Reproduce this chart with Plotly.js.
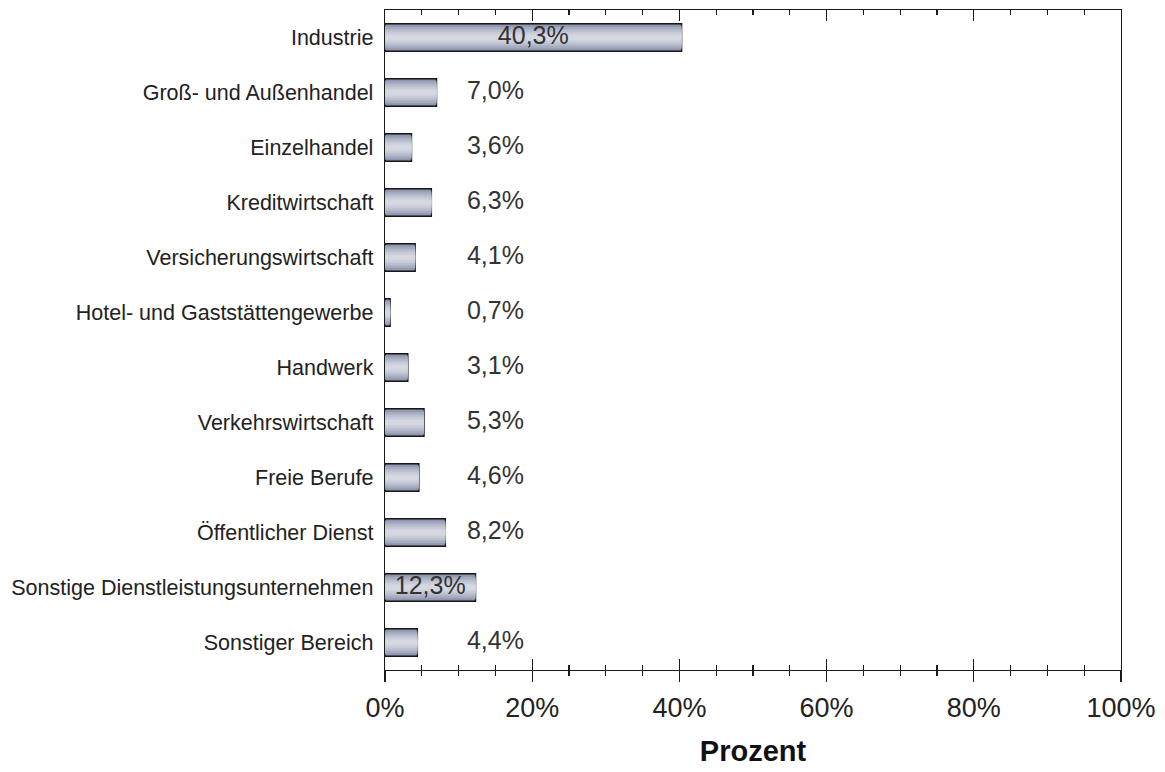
<!DOCTYPE html>
<html>
<head>
<meta charset="utf-8">
<script src="https://cdn.plot.ly/plotly-3.0.1.min.js"></script>
<style>html,body{margin:0;padding:0;background:#fff;}#chart{width:1165px;height:772px;}</style>
</head>
<body>
<div id="chart"></div>
<script>
const categories = ["Industrie","Groß- und Außenhandel","Einzelhandel","Kreditwirtschaft","Versicherungswirtschaft","Hotel- und Gaststättengewerbe","Handwerk","Verkehrswirtschaft","Freie Berufe","Öffentlicher Dienst","Sonstige Dienstleistungsunternehmen","Sonstiger Bereich"];
const values = [40.3, 7.0, 3.6, 6.3, 4.1, 0.7, 3.1, 5.3, 4.6, 8.2, 12.3, 4.4];
const valueLabels = values.map(v => v.toFixed(1).replace('.', ',') + '%');
const tickVals = [0, 20, 40, 60, 80, 100];
const tickText = tickVals.map(v => v + '%');

const FONT = "Liberation Sans, Arial, sans-serif";
// stacked overlay layers of decreasing thickness imitate the vertical gradient of the bars
const layers = [
  {w: 0.50, c: '#8890a9', line: 1.4},
  {w: 0.44, c: '#959cb4'},
  {w: 0.38, c: '#a3aabe'},
  {w: 0.32, c: '#b0b6c8'},
  {w: 0.26, c: '#bcc1d0'},
  {w: 0.20, c: '#c6cad7'},
  {w: 0.14, c: '#ced2dd'},
  {w: 0.08, c: '#d5d8e1'}
];
const traces = layers.map(l => ({
  type: 'bar', orientation: 'h', x: values, y: categories, width: l.w,
  marker: {color: l.c, line: {color: '#151515', width: l.line || 0}},
  hoverinfo: 'skip', showlegend: false, xaxis: 'x', yaxis: 'y'
}));
// value labels: inside (centred) for large bars, else in a fixed column
traces.push({
  type: 'scatter', mode: 'text', y: categories,
  x: values.map(v => v > 10 ? v / 2 : 15),
  text: valueLabels, textposition: 'middle center',
  textfont: {family: FONT, size: 25, color: '#333333'},
  hoverinfo: 'skip', showlegend: false, cliponaxis: false
});
// helper trace for the second (overlay) x axis
traces.push({type: 'scatter', mode: 'none', x: [0, 100], y: [categories[0], categories[0]], xaxis: 'x2', yaxis: 'y', hoverinfo: 'skip', showlegend: false});

const layout = {
  width: 1165, height: 772,
  margin: {l: 385, r: 44, t: 10, b: 102},
  paper_bgcolor: '#ffffff', plot_bgcolor: '#ffffff',
  barmode: 'overlay', bargap: 0.5,
  hovermode: false,
  font: {family: FONT, color: '#222'},
  xaxis: {
    range: [0, 100], fixedrange: true,
    tickvals: tickVals, ticktext: tickText,
    ticks: 'inside', ticklen: 11, tickwidth: 1.3, tickcolor: '#1a1a1a',
    minor: {dtick: 5, ticks: 'inside', ticklen: 5, tickwidth: 1.3, tickcolor: '#1a1a1a', showgrid: false},
    showgrid: false, zeroline: false,
    showline: true, linecolor: '#1a1a1a', linewidth: 1.3, mirror: 'ticks',
    tickfont: {family: FONT, size: 27, color: '#222'},
    ticklabelstandoff: 13,
    title: {text: 'Prozent', font: {family: FONT, size: 29, color: '#111', weight: 'bold'}, standoff: 19}
  },
  xaxis2: {
    overlaying: 'x', side: 'bottom', matches: 'x', range: [0, 100],
    tickvals: tickVals, ticks: 'outside', ticklen: 11, tickwidth: 1.3, tickcolor: '#1a1a1a',
    minor: {dtick: 5, ticks: 'outside', ticklen: 5, tickwidth: 1.3, tickcolor: '#1a1a1a', showgrid: false},
    showticklabels: false, showgrid: false, zeroline: false, showline: false
  },
  yaxis: {
    type: 'category', range: [11.5, -0.5], fixedrange: true,
    categoryorder: 'array', categoryarray: categories,
    showgrid: false, zeroline: false, ticks: '',
    showline: true, linecolor: '#1a1a1a', linewidth: 1.3, mirror: true,
    tickfont: {family: FONT, size: 21.5, color: '#222'},
    ticklabelstandoff: 6
  }
};
Plotly.newPlot('chart', traces, layout, {displayModeBar: false, staticPlot: true});
</script>
</body>
</html>
